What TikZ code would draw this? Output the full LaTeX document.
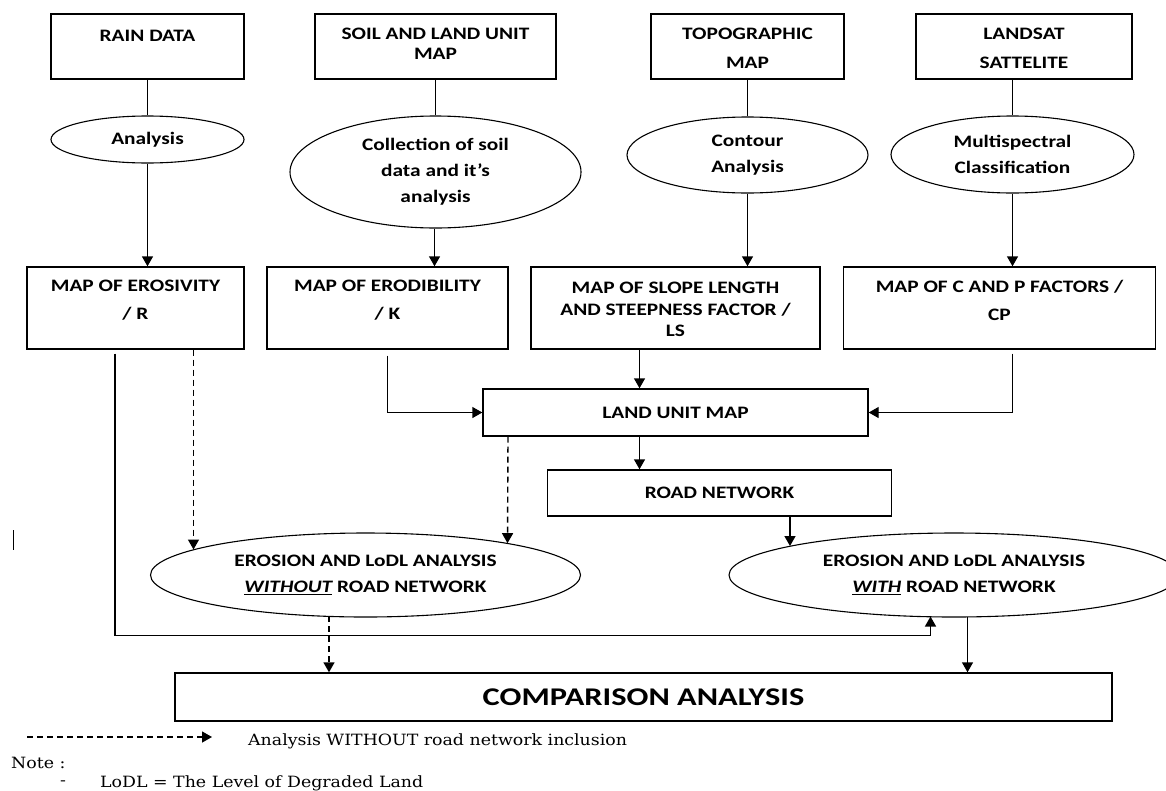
\documentclass[tikz,border=0pt]{standalone}
\usepackage{fontspec}
\setmainfont{DejaVu Serif}[FakeStretch=1.12]
\newfontfamily\calib{Carlito}[FakeStretch=1.22]
\newfontfamily\calibw{Carlito}[FakeStretch=1.27]
\usetikzlibrary{shapes.geometric,arrows.meta,calc}
\tikzset{
  box/.style={draw, line width=1.4pt, rectangle, inner sep=0pt},
  oval/.style={draw, ellipse, line width=1.1pt, inner sep=0pt},
  lbl/.style={font=\calib\bfseries\fontsize{17.5}{21}\selectfont, align=center, inner sep=0pt, anchor=north},
  ovaltext/.style={font=\calib\bfseries\fontsize{17.5}{26}\selectfont, align=center},
  conn/.style={line width=1.4pt, -{Triangle[length=10pt,width=11pt]}},
  plainline/.style={line width=1.4pt},
  dconn/.style={conn, dash pattern=on 6pt off 4pt},
  legend/.style={font=\fontsize{15.5}{18}\selectfont, inner sep=0pt, anchor=west}
}
\begin{document}
\begin{tikzpicture}[x=1pt,y=-1pt]
\useasboundingbox (0,0) rectangle (1166,790);
\clip (0,0) rectangle (1166,790);
% top row
\node[box, minimum width=193pt, minimum height=65pt] (rain) at (147.5,46.5) {};
\node[lbl] (rainL) at (147.5,30) {RAIN DATA};
\node[box, minimum width=241pt, minimum height=65pt] (soil) at (435.5,46.5) {};
\node[lbl, font=\calib\bfseries\fontsize{17.5}{20}\selectfont] (soilL) at (435.5,27.6) {SOIL AND LAND UNIT\\MAP};
\node[box, minimum width=193pt, minimum height=65pt] (topo) at (747.5,46.5) {};
\node[lbl, font=\calib\bfseries\fontsize{17.5}{29}\selectfont] (topoL) at (747.5,27.6) {TOPOGRAPHIC\\MAP};
\node[box, minimum width=216pt, minimum height=65pt] (landsat) at (1024,46.5) {};
\node[lbl, font=\calib\bfseries\fontsize{17.5}{29}\selectfont] (landsatL) at (1024,27.6) {LANDSAT\\SATTELITE};
% process ellipses
\node[oval, minimum width=193pt, minimum height=47pt, ovaltext] (rainE) at (147.5,139.5) {Analysis};
\node[oval, minimum width=291pt, minimum height=112pt, ovaltext] (soilE) at (435.5,172) {Collection of soil\\data and it’s\\analysis};
\node[oval, minimum width=241pt, minimum height=76pt, ovaltext] (topoE) at (747.5,155) {Contour\\Analysis};
\node[oval, minimum width=243pt, minimum height=77pt, ovaltext] (landsatE) at (1012.5,154.5) {Multispectral\\Classification};
% second row
\node[box, minimum width=217pt, minimum height=82pt] (eros) at (135.5,308) {};
\node[lbl, font=\calib\bfseries\fontsize{17.5}{27.6}\selectfont] (erosL) at (135.5,280) {MAP OF EROSIVITY\\/ R};
\node[box, minimum width=241pt, minimum height=82pt] (erod) at (387.5,308) {};
\node[lbl, font=\calib\bfseries\fontsize{17.5}{27.6}\selectfont] (erodL) at (387.5,280) {MAP OF ERODIBILITY\\/ K};
\node[box, minimum width=289pt, minimum height=82pt] (slope) at (675.5,308) {};
\node[lbl, font=\calib\bfseries\fontsize{17.5}{21.5}\selectfont] (slopeL) at (675.5,282.3) {MAP OF SLOPE LENGTH\\AND STEEPNESS FACTOR /\\LS};
\node[box, minimum width=312pt, minimum height=82pt] (cp) at (999.5,308) {};
\node[lbl, font=\calib\bfseries\fontsize{17.5}{27.6}\selectfont] (cpL) at (999.5,280.3) {MAP OF C AND P FACTORS /\\CP};
% middle
\node[box, minimum width=385pt, minimum height=47pt, font=\calib\bfseries\fontsize{17.5}{21}\selectfont] (land) at (675.5,412.5) {LAND UNIT MAP};
\node[box, minimum width=344pt, minimum height=46pt, font=\calib\bfseries\fontsize{17.5}{21}\selectfont] (road) at (719.5,493) {ROAD NETWORK};
% analysis ellipses
\node[oval, minimum width=430pt, minimum height=84pt, ovaltext] (without) at (365.5,575) {EROSION AND LoDL ANALYSIS\\\underline{\itshape WITHOUT} ROAD NETWORK};
\node[oval, minimum width=450pt, minimum height=84pt, ovaltext] (with) at (954,575) {EROSION AND LoDL ANALYSIS\\\underline{\itshape WITH} ROAD NETWORK};
% comparison
\node[box, minimum width=937pt, minimum height=48pt, font=\calibw\bfseries\fontsize{25.5}{30}\selectfont] (comp) at (643.5,697) {COMPARISON ANALYSIS};
% connectors, top part
\draw[plainline] (rain) -- (rainE);
\draw[conn] (rainE.south) -- (rainE.south |- eros.north);
\draw[plainline] (soil) -- (soilE);
\draw[conn] ([xshift=-1pt]soilE.south) -- ([xshift=-1pt]soilE.south |- erod.north);
\draw[plainline] (topo) -- (topoE);
\draw[conn] (topoE.south) -- (topoE.south |- slope.north);
\draw[plainline] (landsatE.north |- landsat.south) -- (landsatE.north);
\draw[conn] (landsatE.south) -- (landsatE.south |- cp.north);
% into land unit map
\coordinate (kS) at ($(erod.south)+(0,6)$);
\draw[conn] (kS) |- (land.west);
\draw[conn] ([xshift=-36pt]slope.south) -- ([xshift=-36pt]land.north);
\coordinate (cpS) at ($(cp.south)+(13,4)$);
\draw[conn] (cpS) |- (land.east);
\draw[conn] ([xshift=-36pt]land.south) -- ([xshift=-80pt]road.north);
% erosivity lines
\coordinate (rS) at ($(eros.south)+(-20.5,4)$);
\coordinate (rB) at ($(eros.south)+(-20.5,286)$);
\coordinate (withB) at ($(with.center)+(-23.5,41.5)$);
\draw[conn] (rS) -- (rB) -| (withB);
\draw[dconn] ([xshift=58pt]eros.south) -- ($(without.center)+(-172,-25.5)$);
\draw[dconn] ([xshift=-167.5pt]land.south) -- ($(without.center)+(142,-31.8)$);
\draw[conn] ([xshift=70.5pt]road.south) -- ($(with.center)+(-164,-29)$);
% to comparison
\coordinate (woB) at ($(without.center)+(-36.5,41.3)$);
\draw[dconn] (woB) -- (woB |- comp.north);
\coordinate (wB) at ($(with.center)+(13.5,41.7)$);
\draw[conn] (wB) -- (wB |- comp.north);
% stray mark
\draw[line width=1.4pt] (13.5,530) -- (13.5,550);
% legend
\coordinate (legA) at (27,737);
\coordinate (legB) at (212,737);
\draw[dconn] (legA) -- (legB);
\node[legend] (legT) at (248,741) {Analysis WITHOUT road network inclusion};
\node[legend] (note) at (11,763) {Note :};
\node[legend] (dash) at (60,783) {-};
\node[legend] (lodl) at (100,783) {LoDL = The Level of Degraded Land};
\end{tikzpicture}
\end{document}
